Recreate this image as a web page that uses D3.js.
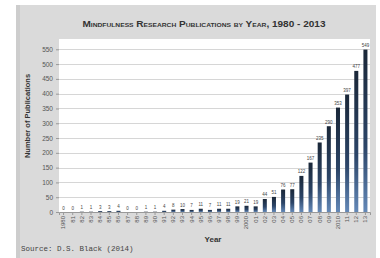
<!DOCTYPE html>
<html>
<head>
<meta charset="utf-8">
<script src="https://cdn.jsdelivr.net/npm/d3@7"></script>
<style>
  html, body { margin: 0; padding: 0; background: #fff; }
  svg { display: block; }
</style>
</head>
<body>
<svg width="380" height="258"></svg>
<script>
// anni e pubblicazioni
const years = ["1980","81","82","83","84","85","86","87","88","89","90","91","92","93","94","95","96","97","98","99",
  "2000","01","02","03","04","05","06","07","08","09","2010","11","12","13"];
const pubs = [0, 0, 1, 1, 3, 3, 4, 0, 0, 1, 1, 4, 8, 10, 7, 11, 7, 11, 11, 19,
  21, 19, 44, 51, 76, 77, 122, 167, 235, 290, 353, 397, 477, 549];
const yTicks = [0, 50, 100, 150, 200, 250, 300, 350, 400, 450, 500, 550];

const svg = d3.select('svg');

// sfondo grigio del pannello
svg.append('rect').attr('x', 16).attr('y', 5).attr('width', 360).attr('height', 253).attr('fill', '#dadada');
svg.append('rect').attr('x', 16).attr('y', 5).attr('width', 4).attr('height', 253).attr('fill', '#cdcdcd');

const plot = {left: 59, right: 370, top: 39, bottom: 212};

const x = d3.scaleBand()
  .domain(years)
  .range([plot.left, plot.right])
  .paddingInner(0.56)
  .paddingOuter(0.28);

const y = d3.scaleLinear()
  .domain([0, 550])
  .range([plot.bottom, 49.3]);

// area bianca del grafico
svg.append('rect')
  .attr('x', plot.left).attr('y', plot.top)
  .attr('width', plot.right - plot.left).attr('height', plot.bottom - plot.top)
  .attr('fill', '#fff');

// griglia
svg.append('g')
  .selectAll('line')
  .data(yTicks.slice(1))
  .join('line')
  .attr('x1', plot.left).attr('x2', plot.right)
  .attr('y1', d => Math.round(y(d)) + 0.5).attr('y2', d => Math.round(y(d)) + 0.5)
  .attr('stroke', '#d6d6d6').attr('stroke-width', 1);

// asse y
const yAxis = d3.axisLeft(y).tickValues(yTicks).tickSize(3).tickPadding(3);
const gy = svg.append('g').attr('transform', `translate(${plot.left},0)`).call(yAxis);
gy.select('.domain').remove();
gy.selectAll('line').attr('stroke', '#999');
gy.selectAll('text').attr('font-family', 'Liberation Sans, Arial, sans-serif').attr('font-size', 6.5).attr('fill', '#555');

// asse x
const xAxis = d3.axisBottom(x).tickSize(3).tickPadding(2);
const gx = svg.append('g').attr('transform', `translate(0,${plot.bottom})`).call(xAxis);
gx.select('.domain').attr('stroke', '#999');
gx.selectAll('line').attr('stroke', '#999');
gx.selectAll('text')
  .attr('font-family', 'Liberation Sans, Arial, sans-serif').attr('font-size', 6).attr('fill', '#555')
  .attr('transform', 'rotate(-90)')
  .attr('text-anchor', 'end')
  .attr('x', -4).attr('y', 0).attr('dy', '0.32em');

// gradiente delle barre
const grad = svg.append('defs').append('linearGradient')
  .attr('id', 'barGrad').attr('x1', 0).attr('y1', 0).attr('x2', 0).attr('y2', 1);
grad.append('stop').attr('offset', '0%').attr('stop-color', '#1a2738');
grad.append('stop').attr('offset', '60%').attr('stop-color', '#2c4568');
grad.append('stop').attr('offset', '100%').attr('stop-color', '#6489b8');

// barre
svg.append('g')
  .selectAll('rect')
  .data(pubs)
  .join('rect')
  .attr('x', (d, i) => x(years[i]))
  .attr('y', d => y(d))
  .attr('width', x.bandwidth())
  .attr('height', d => plot.bottom - y(d))
  .attr('fill', 'url(#barGrad)');

// etichette dei valori
svg.append('g')
  .selectAll('text')
  .data(pubs)
  .join('text')
  .attr('x', (d, i) => x(years[i]) + x.bandwidth() / 2)
  .attr('y', d => y(d) - 2.5)
  .attr('text-anchor', 'middle')
  .attr('font-family', 'Liberation Sans, Arial, sans-serif')
  .attr('font-size', 4.5)
  .attr('fill', '#444')
  .text(d => d);

// titolo
svg.append('text')
  .attr('x', 204).attr('y', 27)
  .attr('text-anchor', 'middle')
  .attr('font-family', 'Liberation Sans, Arial, sans-serif')
  .attr('font-weight', 'bold')
  .attr('font-size', 9)
  .attr('textLength', 243)
  .attr('lengthAdjust', 'spacingAndGlyphs')
  .style('font-variant', 'small-caps')
  .attr('fill', '#333')
  .text('Mindfulness Research Publications by Year, 1980 - 2013');

// titoli degli assi
svg.append('text')
  .attr('transform', 'translate(30,116) rotate(-90)')
  .attr('text-anchor', 'middle')
  .attr('font-family', 'Liberation Sans, Arial, sans-serif')
  .attr('font-weight', 'bold')
  .attr('font-size', 7.5)
  .attr('fill', '#333')
  .text('Number of Publications');

svg.append('text')
  .attr('x', 213).attr('y', 242)
  .attr('text-anchor', 'middle')
  .attr('font-family', 'Liberation Sans, Arial, sans-serif')
  .attr('font-weight', 'bold')
  .attr('font-size', 8)
  .attr('fill', '#333')
  .text('Year');

// fonte
svg.append('text')
  .attr('x', 21).attr('y', 251)
  .attr('font-family', 'Liberation Mono, DejaVu Sans Mono, monospace')
  .attr('font-size', 7.5)
  .attr('fill', '#444')
  .text('Source: D.S. Black (2014)');
</script>
</body>
</html>
